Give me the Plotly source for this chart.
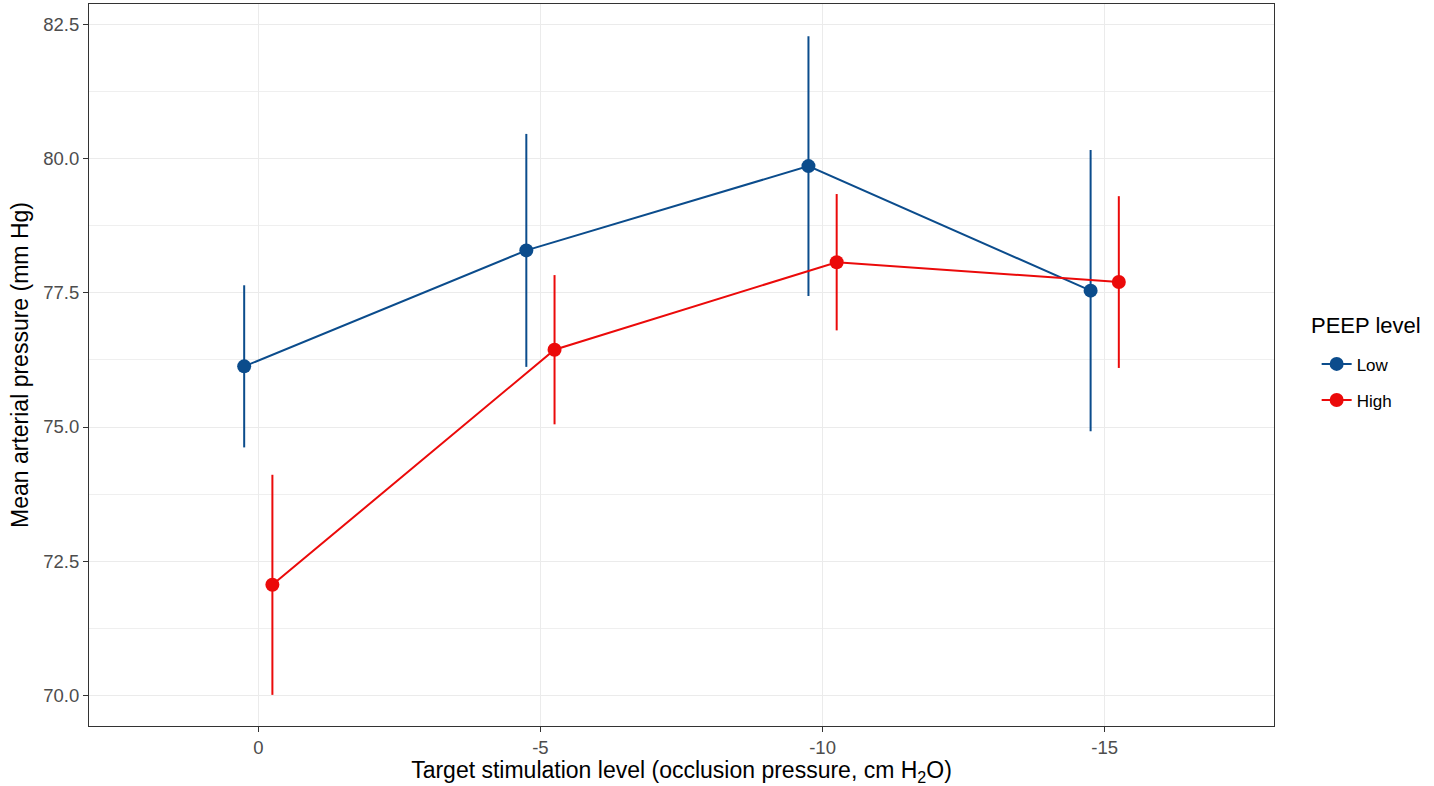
import plotly.graph_objects as go

# ---- data ----
stim_labels = ["0", "-5", "-10", "-15"]
peep_levels = ["Low", "High"]
low_mean = [76.13, 78.29, 79.86, 77.54]
low_err = [1.51, 2.17, 2.42, 2.62]
high_mean = [72.06, 76.44, 78.07, 77.70]
high_err = [2.05, 1.39, 1.27, 1.60]

# ---- styling ----
colors = {"Low": "#0B4C8C", "High": "#EB0A0A"}
dodge = {"Low": -0.05, "High": 0.05}
FONT = "Liberation Sans, Arial, Helvetica, sans-serif"

series = {"Low": (low_mean, low_err), "High": (high_mean, high_err)}
pos = list(range(len(stim_labels)))

fig = go.Figure()
for lvl in peep_levels:
    m, e = series[lvl]
    fig.add_trace(go.Scatter(
        x=[p + dodge[lvl] for p in pos],
        y=m,
        name=lvl,
        legendgroup=lvl,
        mode="lines+markers",
        line=dict(color=colors[lvl], width=2),
        marker=dict(color=colors[lvl], size=14),
        error_y=dict(type="data", array=e, symmetric=True,
                     color=colors[lvl], thickness=2, width=0),
    ))

fig.update_layout(
    width=1434, height=786,
    margin=dict(l=89, r=160, t=4, b=60),
    paper_bgcolor="white", plot_bgcolor="white",
    font=dict(family=FONT, color="black"),
    showlegend=True,
    legend=dict(
        font=dict(size=17, color="black", family=FONT),
        x=1.036, xanchor="left", y=0.476, yanchor="middle",
        bgcolor="rgba(0,0,0,0)", tracegroupgap=11,
    ),
    annotations=[dict(
        text="PEEP level", xref="paper", yref="paper",
        x=1.0295, y=0.555, xanchor="left", yanchor="middle",
        showarrow=False, font=dict(size=22, color="black", family=FONT),
    )],
)

fig.update_xaxes(
    range=[-0.6, len(stim_labels) - 0.4],
    tickmode="array", tickvals=pos, ticktext=stim_labels,
    showgrid=True, gridcolor="#EBEBEB", gridwidth=1.2,
    zeroline=False,
    showline=True, linecolor="#333333", linewidth=1, mirror=True,
    ticks="outside", ticklen=5, tickcolor="#333333", tickwidth=1,
    tickfont=dict(size=18.5, color="#4D4D4D", family=FONT),
    title=dict(text="Target stimulation level (occlusion pressure, cm H<sub>2</sub>O)",
               font=dict(size=23, color="black", family=FONT), standoff=6),
)

fig.update_yaxes(
    range=[69.43, 82.88],
    tickmode="array", tickvals=[70, 72.5, 75, 77.5, 80, 82.5],
    ticktext=["70.0", "72.5", "75.0", "77.5", "80.0", "82.5"],
    showgrid=True, gridcolor="#EBEBEB", gridwidth=1.2,
    minor=dict(tickmode="array", tickvals=[71.25, 73.75, 76.25, 78.75, 81.25],
               showgrid=True, gridcolor="#EFEFEF", gridwidth=1, ticks=""),
    zeroline=False,
    showline=True, linecolor="#333333", linewidth=1, mirror=True,
    ticks="outside", ticklen=5, tickcolor="#333333", tickwidth=1,
    tickfont=dict(size=18.5, color="#4D4D4D", family=FONT),
    title=dict(text="Mean arterial pressure (mm Hg)",
               font=dict(size=23, color="black", family=FONT), standoff=8),
)

fig.write_html("out.html", config={"displayModeBar": False},
               post_script="document.body.style.margin='0px';")
